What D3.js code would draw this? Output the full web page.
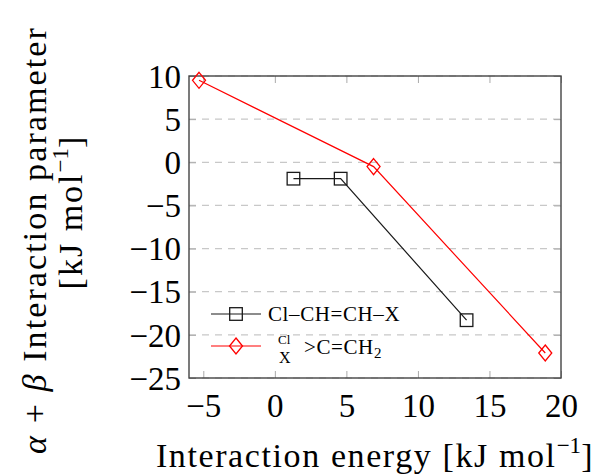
<!DOCTYPE html>
<html>
<head>
<meta charset="utf-8">
<style>
  body { margin: 0; background: #fff; }
  svg { display: block; }
  text { font-family: "Liberation Serif", "DejaVu Serif", serif; fill: #000; }
</style>
</head>
<body>
<div id="chart"></div>
<script src="https://d3js.org/d3.v7.min.js"></script>
<script>
  // Dados
  const energiaClCH = [1.3, 4.6, 13.4];
  const paramClCH = [-1.9, -1.9, -18.3];
  const energiaClX = [-5.3, 6.9, 18.9];
  const paramClX = [9.5, -0.5, -22.1];
  const xTicks = [-5, 0, 5, 10, 15, 20];
  const yTicks = [10, 5, 0, -5, -10, -15, -20, -25];

  const W = 597, H = 475;
  const margin = {top: 76, right: 36, bottom: 97, left: 189};
  const width = W - margin.left - margin.right;
  const height = H - margin.top - margin.bottom;

  const svg = d3.select("#chart").append("svg")
      .attr("width", W)
      .attr("height", H);

  const g = svg.append("g")
      .attr("transform", `translate(${margin.left},${margin.top})`);

  const x = d3.scaleLinear().domain([-6, 20]).range([0, width]);
  const y = d3.scaleLinear().domain([-25, 10]).range([height, 0]);

  // grade horizontal tracejada
  g.append("g")
    .selectAll("line")
    .data(yTicks)
    .join("line")
      .attr("x1", 0).attr("x2", width)
      .attr("y1", d => y(d)).attr("y2", d => y(d))
      .attr("stroke", "#c8c8c8")
      .attr("stroke-width", 1.2)
      .attr("stroke-dasharray", "7,6");

  // eixos (ticks para dentro)
  const fmt = d => d < 0 ? "\u2212" + Math.abs(d) : String(d);

  const axB = g.append("g")
      .attr("transform", `translate(0,${height})`)
      .call(d3.axisBottom(x).tickValues(xTicks).tickSize(-7).tickPadding(15).tickFormat(fmt));
  const axT = g.append("g")
      .call(d3.axisTop(x).tickValues(xTicks).tickSize(-7).tickFormat(""));
  const axL = g.append("g")
      .call(d3.axisLeft(y).tickValues(yTicks).tickSize(-7).tickPadding(8).tickFormat(fmt));
  const axR = g.append("g")
      .attr("transform", `translate(${width},0)`)
      .call(d3.axisRight(y).tickValues(yTicks).tickSize(-7).tickFormat(""));

  [axB, axT, axL, axR].forEach(a => {
    a.select(".domain").remove();
    a.selectAll(".tick line").attr("stroke", "#aaa").attr("stroke-width", 1);
    a.selectAll("text")
      .style("font-family", "'Liberation Serif', serif")
      .style("font-size", "33px")
      .attr("fill", "#000");
  });
  axB.selectAll("text").attr("dy", "0.72em");
  axL.selectAll("text").attr("dy", "0.34em");

  // moldura
  g.append("rect")
    .attr("x", 0).attr("y", 0)
    .attr("width", width).attr("height", height)
    .attr("fill", "none")
    .attr("stroke", "#444")
    .attr("stroke-width", 1.4);

  // séries
  const serieCH = energiaClCH.map((v, i) => ({x: v, y: paramClCH[i]}));
  const serieX = energiaClX.map((v, i) => ({x: v, y: paramClX[i]}));

  const line = d3.line().x(d => x(d.x)).y(d => y(d.y));

  g.append("path")
    .datum(serieX)
    .attr("d", line)
    .attr("fill", "none")
    .attr("stroke", "#ff0000")
    .attr("stroke-width", 1.2);

  g.append("path")
    .datum(serieCH)
    .attr("d", line)
    .attr("fill", "none")
    .attr("stroke", "#1a1a1a")
    .attr("stroke-width", 1.2);

  const quadrado = (sel, cx, cy) => sel.append("rect")
      .attr("x", cx - 6.3).attr("y", cy - 6.3)
      .attr("width", 12.6).attr("height", 12.6)
      .attr("fill", "none")
      .attr("stroke", "#1a1a1a")
      .attr("stroke-width", 1.3);

  const losango = (sel, cx, cy) => sel.append("path")
      .attr("d", `M${cx},${cy - 8}L${cx + 6.5},${cy}L${cx},${cy + 8}L${cx - 6.5},${cy}Z`)
      .attr("fill", "none")
      .attr("stroke", "#ff0000")
      .attr("stroke-width", 1.3);

  serieX.forEach(d => losango(g, x(d.x), y(d.y)));
  serieCH.forEach(d => quadrado(g, x(d.x), y(d.y)));

  // legenda
  const leg = svg.append("g");
  leg.append("line").attr("x1", 211).attr("x2", 261).attr("y1", 314).attr("y2", 314)
    .attr("stroke", "#1a1a1a").attr("stroke-width", 1.2);
  quadrado(leg, 236, 314);
  leg.append("text")
    .attr("x", 268).attr("y", 321)
    .style("font-size", "21px")
    .style("letter-spacing", "0.6px")
    .text("Cl\u2013CH=CH\u2013X");

  leg.append("line").attr("x1", 211).attr("x2", 261).attr("y1", 346).attr("y2", 346)
    .attr("stroke", "#ff0000").attr("stroke-width", 1.2);
  losango(leg, 236, 346);
  leg.append("text").attr("x", 278).attr("y", 344).style("font-size", "13px").text("Cl");
  leg.append("text").attr("x", 279).attr("y", 363).style("font-size", "16px").text("X");
  const t2 = leg.append("text").attr("x", 304).attr("y", 354)
    .style("font-size", "21px").style("letter-spacing", "0.6px");
  t2.append("tspan").text(">C=CH");
  t2.append("tspan").attr("dy", 4).style("font-size", "15px").text("2");

  // título eixo x
  const tx = svg.append("text")
    .attr("x", margin.left + width / 2)
    .attr("y", 467)
    .attr("text-anchor", "middle")
    .style("font-size", "34px")
    .style("letter-spacing", "1.6px");
  tx.append("tspan").text("Interaction energy [kJ mol");
  tx.append("tspan").attr("dy", -14).style("font-size", "23px").style("letter-spacing", "0px").text("\u22121");
  tx.append("tspan").attr("dy", 14).text("]");

  // título eixo y (duas linhas)
  const ty = svg.append("g")
    .attr("transform", `translate(0,${margin.top + height / 2}) rotate(-90)`);
  const l1 = ty.append("text")
    .attr("x", -13).attr("y", 46)
    .attr("text-anchor", "middle")
    .style("font-size", "34px")
    .style("letter-spacing", "2.1px");
  l1.append("tspan").style("font-style", "italic").text("\u03b1");
  l1.append("tspan").text(" + ");
  l1.append("tspan").style("font-style", "italic").text("\u03b2");
  l1.append("tspan").text(" Interaction parameter");
  const l2 = ty.append("text")
    .attr("x", 15).attr("y", 82)
    .attr("text-anchor", "middle")
    .style("font-size", "34px")
    .style("letter-spacing", "2px");
  l2.append("tspan").text("[kJ mol");
  l2.append("tspan").attr("dy", -14).style("font-size", "23px").style("letter-spacing", "0px").text("\u22121");
  l2.append("tspan").attr("dy", 14).text("]");
</script>
</body>
</html>
